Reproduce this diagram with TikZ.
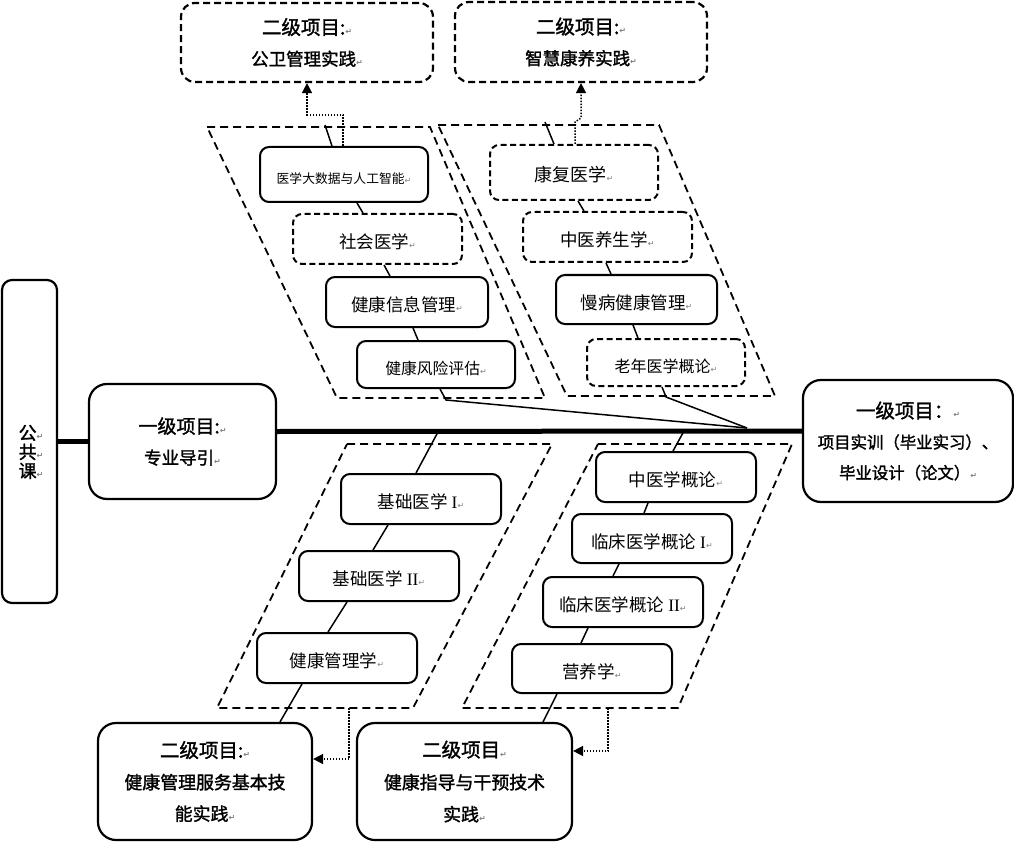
\documentclass[tikz,border=0pt]{standalone}
\usepackage{fontspec}
\setmainfont{Liberation Serif}
\newfontfamily\cjk[AutoFakeBold=1.6]{Noto Sans CJK SC}
\newfontfamily\markfont{DejaVu Sans}
\usetikzlibrary{arrows.meta,calc}
\newcommand\retmark{{\markfont\color{gray}\fontsize{8}{8}\selectfont ↵}}
\tikzset{
  course/.style={draw, line width=2pt, rounded corners=9pt, minimum width=160pt, minimum height=50pt,
    inner sep=0pt, text height=21pt, text depth=2pt, font=\cjk\fontsize{17.5}{20}\selectfont},
  optcourse/.style={course, dash pattern=on 6pt off 3.5pt},
  project/.style={draw, line width=2.2pt, rounded corners=18pt, align=center, inner sep=0pt,
    font=\cjk\bfseries\fontsize{17.5}{31}\selectfont},
  optproject/.style={project, rounded corners=14pt, dash pattern=on 7pt off 4pt},
  zone/.style={line width=1.8pt, dash pattern=on 8pt off 5pt},
  link/.style={line width=1.5pt},
  spine/.style={line width=5pt},
  feed/.style={line width=1.5pt, dash pattern=on 1.5pt off 1.5pt, -{Triangle[length=10pt,width=10pt]}}
}

\begin{document}
\begin{tikzpicture}[x=1pt,y=-1pt]
\useasboundingbox (0,0) rectangle (1014,842);

\draw[zone] (207,127) -- (430,127) -- (545,398) -- (337,398) -- cycle;
\draw[zone] (438,125) -- (659,125) -- (775,396) -- (567,396) -- cycle;
\draw[zone] (347,444) -- (552,444) -- (413,708) -- (217,708) -- cycle;
\draw[zone] (598,444) -- (792,444) -- (678,708) -- (462,708) -- cycle;

\node[optproject, minimum width=252pt, minimum height=79pt] (pubhealth) at (307,42.5)
  {{\fontsize{19.5}{31}\selectfont 二级项目:}\retmark\\公卫管理实践\retmark};
\node[optproject, minimum width=252pt, minimum height=80pt] (smartcare) at (581,42)
  {{\fontsize{19.5}{31}\selectfont 二级项目:}\retmark\\智慧康养实践\retmark};

\node[course, minimum width=168pt, minimum height=55pt, font=\cjk\fontsize{12.8}{15}\selectfont] (bigdata) at (344,174.5) {医学大数据与人工智能\retmark};
\node[optcourse, minimum width=169pt] (socmed) at (377.5,239) {社会医学\retmark};
\node[course, minimum width=162pt] (hinfo) at (407,302) {健康信息管理\retmark};
\node[course, minimum width=158pt, minimum height=47pt, font=\cjk\fontsize{15.8}{18}\selectfont] (hrisk) at (436,364.5) {健康风险评估\retmark};

\node[optcourse, minimum width=168pt, minimum height=55pt, font=\cjk\fontsize{18}{20}\selectfont] (rehab) at (574,172.5) {康复医学\retmark};
\node[optcourse, minimum width=169pt] (tcmcare) at (607.5,237) {中医养生学\retmark};
\node[course, minimum width=161pt, minimum height=49pt] (chronic) at (636.5,299.5) {慢病健康管理\retmark};
\node[optcourse, minimum width=158pt, minimum height=47pt, font=\cjk\fontsize{16}{18}\selectfont] (geri) at (666,362.5) {老年医学概论\retmark};

\node[project, rounded corners=10pt, minimum width=55pt, minimum height=323pt] (pub) at (29.5,441.5) {};
\node[font=\cjk\bfseries\fontsize{18}{19}\selectfont, align=center] (pubtext) at (31,452) {公\retmark\\共\retmark\\课\retmark};
\node[project, minimum width=187pt, minimum height=115pt] (guide) at (182.5,441.5)
  {{\fontsize{19}{31}\selectfont 一级项目:}\retmark\\专业导引\retmark};
\node[project, minimum width=210pt, minimum height=122pt, font=\cjk\bfseries\fontsize{16.4}{30.5}\selectfont] (practice) at (908,441)
  {{\fontsize{19.5}{30.5}\selectfont 一级项目：}\retmark\\项目实训（毕业实习）、\\毕业设计（论文）\retmark};

\node[course] (basic1) at (421,499) {基础医学 {\rmfamily I}\retmark};
\node[course] (basic2) at (379,576) {基础医学 {\rmfamily II}\retmark};
\node[course] (hmgmt) at (337,658) {健康管理学\retmark};

\node[course] (tcmintro) at (676,477) {中医学概论\retmark};
\node[course, minimum height=49pt] (clin1) at (652,538.5) {临床医学概论 {\rmfamily I}\retmark};
\node[course] (clin2) at (623,602) {临床医学概论 {\rmfamily II}\retmark};
\node[course, minimum height=49pt] (nutri) at (592,668.5) {营养学\retmark};

\node[project, minimum width=214pt, minimum height=117pt, font=\cjk\bfseries\fontsize{17.9}{31.5}\selectfont] (skills) at (205,781.5)
  {{\fontsize{19.5}{31.5}\selectfont 二级项目:}\retmark\\健康管理服务基本技\\能实践\retmark};
\node[project, minimum width=215pt, minimum height=117pt, font=\cjk\bfseries\fontsize{17.9}{32}\selectfont] (guidance) at (464.5,781.5)
  {{\fontsize{19.5}{32}\selectfont 二级项目}\retmark\\健康指导与干预技术\\实践\retmark};

\coordinate (ultop) at (325,125);
\coordinate (ulend) at (446,400);
\coordinate (urtop) at (545,122);
\coordinate (urend) at (666,397);
\coordinate (join) at (747,428);
\coordinate (lltop) at (438,432);
\coordinate (lrtop) at (684,431);
\coordinate (lldrop) at (349,708);
\coordinate (lrdrop) at (608,708);

\draw[spine] (pub.east) -- (guide.west);
\draw[spine] ($(guide.east)+(0,-10)$) -- ($(practice.west)+(0,-10)$);

\draw[link] (ultop) -- ($(bigdata.north)+(-12,0)$);
\draw[link] ($(bigdata.south)+(13,0)$) -- ($(socmed.north)+(-14.5,0)$);
\draw[link] ($(socmed.south)+(6.5,0)$) -- ($(hinfo.north)+(-17,0)$);
\draw[link] ($(hinfo.south)+(6,0)$) -- ($(hrisk.north)+(-18,0)$);
\draw[link] ($(hrisk.south)+(4,0)$) -- (ulend) -- (join);

\draw[link] (urtop) -- ($(rehab.north)+(-20,0)$);
\draw[link] ($(rehab.south)+(4,0)$) -- ($(tcmcare.north)+(-23.5,0)$);
\draw[link] ($(tcmcare.south)+(-1.5,0)$) -- ($(chronic.north)+(-25.5,0)$);
\draw[link] ($(chronic.south)+(-3.5,0)$) -- ($(geri.north)+(-28,0)$);
\draw[link] ($(geri.south)+(-4,0)$) -- (urend) -- (join);

\draw[link] (lltop) -- ($(basic1.north)+(-5,0)$);
\draw[link] ($(basic1.south)+(-33,0)$) -- ($(basic2.north)+(-6,0)$);
\draw[link] ($(basic2.south)+(-32,0)$) -- ($(hmgmt.north)+(-9,0)$);
\draw[link] ($(hmgmt.south)+(-35,0)$) -- ($(skills.north)+(75,0)$);

\draw[link] (lrtop) -- ($(tcmintro.north)+(-3,0)$);
\draw[link] ($(tcmintro.south)+(-28,0)$) -- ($(clin1.north)+(-8,0)$);
\draw[link] ($(clin1.south)+(-33,0)$) -- ($(clin2.north)+(-10,0)$);
\draw[link] ($(clin2.south)+(-35,0)$) -- ($(nutri.north)+(-11,0)$);
\draw[link] ($(nutri.south)+(-35,0)$) -- ($(guidance.north)+(78.5,0)$);

\draw[feed] ($(bigdata.north)+(-1,0)$) -- ++(0,-31) -| (pubhealth.south);
\draw[feed] ($(rehab.north)+(1,0)$) -- ++(0,-22) -- ++(6,-4) -- (smartcare.south);
\draw[feed] (lldrop) |- ($(skills.east)+(0,-22.5)$);
\draw[feed] (lrdrop) |- ($(guidance.east)+(0,-30.5)$);
\end{tikzpicture}
\end{document}
